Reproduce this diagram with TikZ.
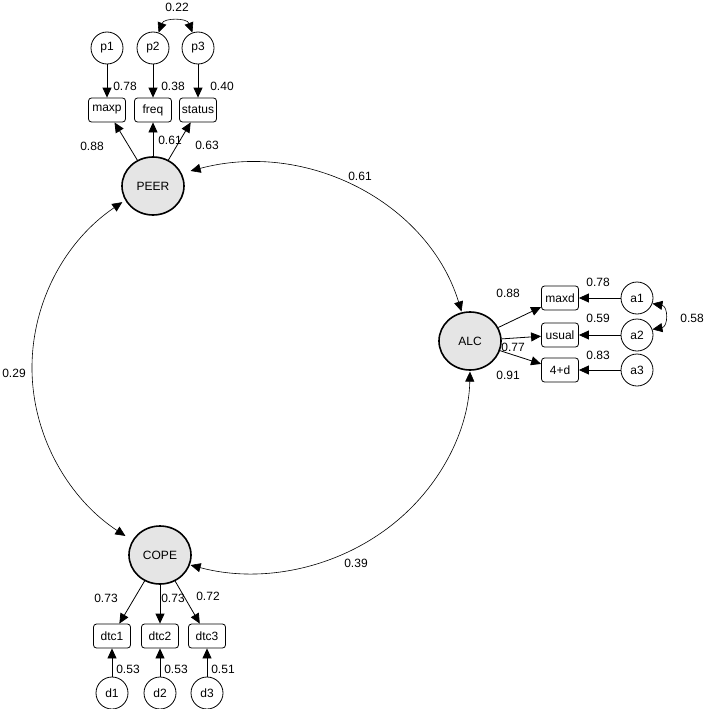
\documentclass[tikz,border=0pt]{standalone}
\usepackage{fontspec}
\setmainfont{Liberation Sans}
\usetikzlibrary{arrows.meta,shapes.geometric}
\begin{document}
\begin{tikzpicture}[x=1pt,y=-1pt,font=\fontsize{12}{14}\selectfont,line width=0.8pt,
  lat/.style={ellipse,draw,line width=1.6pt,fill=gray!20,minimum width=62pt,minimum height=58pt,inner sep=0pt},
  err/.style={circle,draw,minimum size=32pt,inner sep=0pt},
  ind/.style={rectangle,draw,rounded corners=3pt,minimum width=37pt,minimum height=24pt,inner sep=1pt},
  arr/.style={-{Triangle[length=10pt,width=9pt]}},
  dbl/.style={{Triangle[length=10pt,width=9pt]}-{Triangle[length=10pt,width=9pt]},line width=0.6pt}]
\useasboundingbox (0,0) rectangle (706,709);

\node[lat] (PEER) at (153,186) {PEER};
\node[lat] (ALC) at (470,341) {ALC};
\node[lat] (COPE) at (160,555) {COPE};
\coordinate (ctr) at (251,368);

\node[ind] (maxp) at (107,110) {maxp};
\node[ind] (freq) at (153,110) {freq};
\node[ind] (status) at (198,110) {status};
\node[err] (p1) at (107,48) {p1};
\node[err] (p2) at (153,48) {p2};
\node[err] (p3) at (198,48) {p3};

\node[ind] (maxd) at (560,298) {maxd};
\node[ind] (usual) at (560,335) {usual};
\node[ind] (4d) at (560,370) {4+d};
\node[err] (a1) at (637,298) {a1};
\node[err] (a2) at (637,335) {a2};
\node[err] (a3) at (637,370) {a3};

\node[ind] (dtc1) at (112,636) {dtc1};
\node[ind] (dtc2) at (160,636) {dtc2};
\node[ind] (dtc3) at (207,636) {dtc3};
\node[err] (d1) at (112,693) {d1};
\node[err] (d2) at (160,693) {d2};
\node[err] (d3) at (207,693) {d3};

% loadings
\draw[arr] (PEER) -- (maxp);
\draw[arr] (PEER) -- (freq);
\draw[arr] (PEER) -- (status);
\draw[arr] (ALC) -- (maxd);
\draw[arr] (ALC) -- (usual);
\draw[arr] (ALC) -- (4d);
\draw[arr] (COPE) -- (dtc1);
\draw[arr] (COPE) -- (dtc2);
\draw[arr] (COPE) -- (dtc3);

% errors
\foreach \e/\i in {p1/maxp,p2/freq,p3/status,a1/maxd,a2/usual,a3/4d,d1/dtc1,d2/dtc2,d3/dtc3}
  \draw[arr] (\e) -- (\i);

% covariances
\draw[dbl] (p2.70) to[out=70,in=110,looseness=1.2] (p3.110);
\draw[dbl] (a1.-20) to[out=-10,in=10,looseness=1.6] (a2.20);
\draw[dbl] (ctr) ++(-106:219 and 205) arc[start angle=-106,end angle=-16,x radius=219,y radius=205];
\draw[dbl] (ctr) ++(-126:219 and 205) arc[start angle=-126,end angle=-235,x radius=219,y radius=205];
\draw[dbl] (ctr) ++(-254:219 and 205) arc[start angle=-254,end angle=-359,x radius=219,y radius=205];

% labels
\node at (177,7) {0.22};
\node at (125,86) {0.78};
\node at (173,86) {0.38};
\node at (222,86) {0.40};
\node at (92,146) {0.88};
\node at (170,140) {0.61};
\node at (207,145) {0.63};
\node at (360,176) {0.61};
\node at (14,373) {0.29};
\node at (508,293) {0.88};
\node at (513,347) {0.77};
\node at (508,375) {0.91};
\node at (598,282) {0.78};
\node at (598,318) {0.59};
\node at (598,355) {0.83};
\node at (692,318) {0.58};
\node at (356,563) {0.39};
\node at (106,598) {0.73};
\node at (173,598) {0.73};
\node at (208,596) {0.72};
\node at (128,669) {0.53};
\node at (176,669) {0.53};
\node at (223,669) {0.51};
\end{tikzpicture}
\end{document}
